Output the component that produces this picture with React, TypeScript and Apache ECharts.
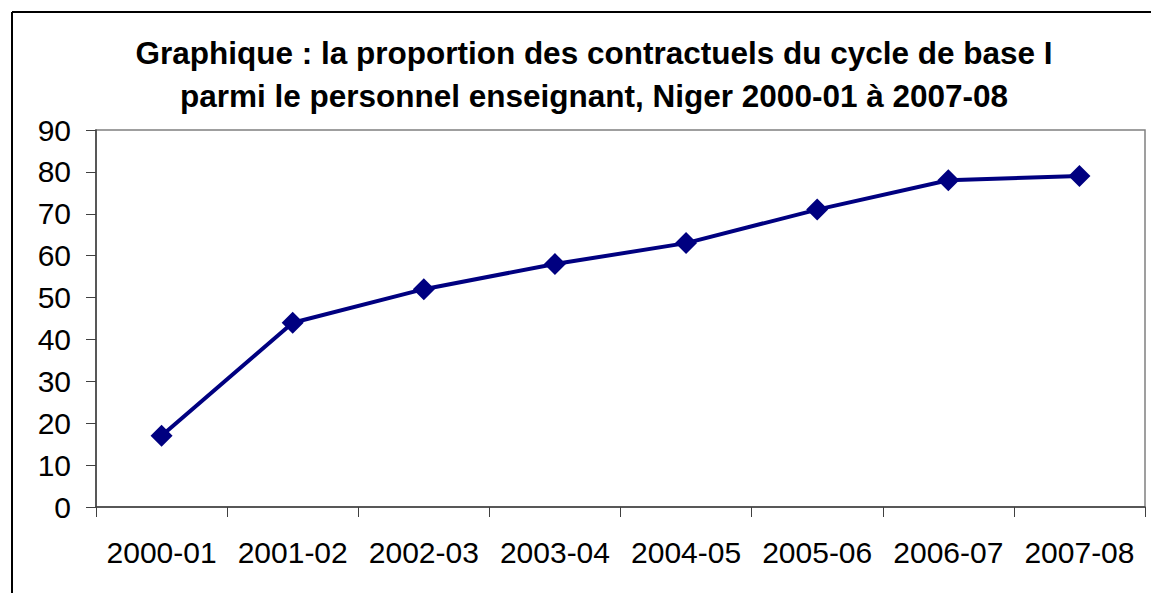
import React, { useEffect, useRef } from "react";
import * as echarts from "echarts";

const categories = ["2000-01", "2001-02", "2002-03", "2003-04", "2004-05", "2005-06", "2006-07", "2007-08"];
const proportions = [17, 44, 52, 58, 63, 71, 78, 79];
const titleLines = [
  "Graphique : la proportion des contractuels du cycle de base I",
  "parmi le personnel enseignant, Niger 2000-01 à 2007-08",
];

export default function App() {
  const ref = useRef<HTMLDivElement>(null);
  useEffect(() => {
    if (!ref.current) return;
    const chart = echarts.init(ref.current, null, { renderer: "svg" });
    const font = "'Liberation Sans', Arial, sans-serif";
    chart.setOption({
      animation: false,
      backgroundColor: "#ffffff",
      title: {
        text: titleLines.join("\n"),
        left: 589,
        top: 26,
        textAlign: "center",
        textStyle: {
          fontFamily: font,
          fontSize: 31.5,
          fontWeight: "bold",
          color: "#000000",
          lineHeight: 43,
        },
      },
      graphic: [
        { type: "line", shape: { x1: 12, y1: 12, x2: 1151, y2: 12 }, style: { stroke: "#000", lineWidth: 2 } },
        { type: "line", shape: { x1: 12, y1: 12, x2: 12, y2: 593 }, style: { stroke: "#000", lineWidth: 2 } },
      ],
      grid: {
        left: 96,
        top: 130,
        right: 6,
        bottom: 86,
        show: true,
        borderColor: "#808080",
        borderWidth: 1.5,
      },
      xAxis: {
        type: "category",
        data: categories,
        boundaryGap: true,
        axisLine: { lineStyle: { color: "#404040", width: 1.5 } },
        axisTick: { show: true, length: 10, inside: false, lineStyle: { color: "#404040", width: 1 } },
        axisLabel: { fontFamily: font, fontSize: 30, color: "#000", margin: 30, interval: 0 },
        splitLine: { show: false },
      },
      yAxis: {
        type: "value",
        min: 0,
        max: 90,
        interval: 10,
        axisLine: { show: true, lineStyle: { color: "#404040", width: 1.5 } },
        axisTick: { show: true, length: 10, lineStyle: { color: "#404040", width: 1 } },
        axisLabel: { fontFamily: font, fontSize: 30, color: "#000", margin: 25 },
        splitLine: { show: false },
      },
      series: [
        {
          type: "line",
          data: proportions,
          symbol: "diamond",
          symbolSize: 22,
          lineStyle: { color: "#000080", width: 4 },
          itemStyle: { color: "#000080" },
        },
      ],
    });
    return () => chart.dispose();
  }, []);
  return (
    <div
      ref={ref}
      style={{ position: "fixed", left: 0, top: 0, width: 1151, height: 593 }}
    />
  );
}
